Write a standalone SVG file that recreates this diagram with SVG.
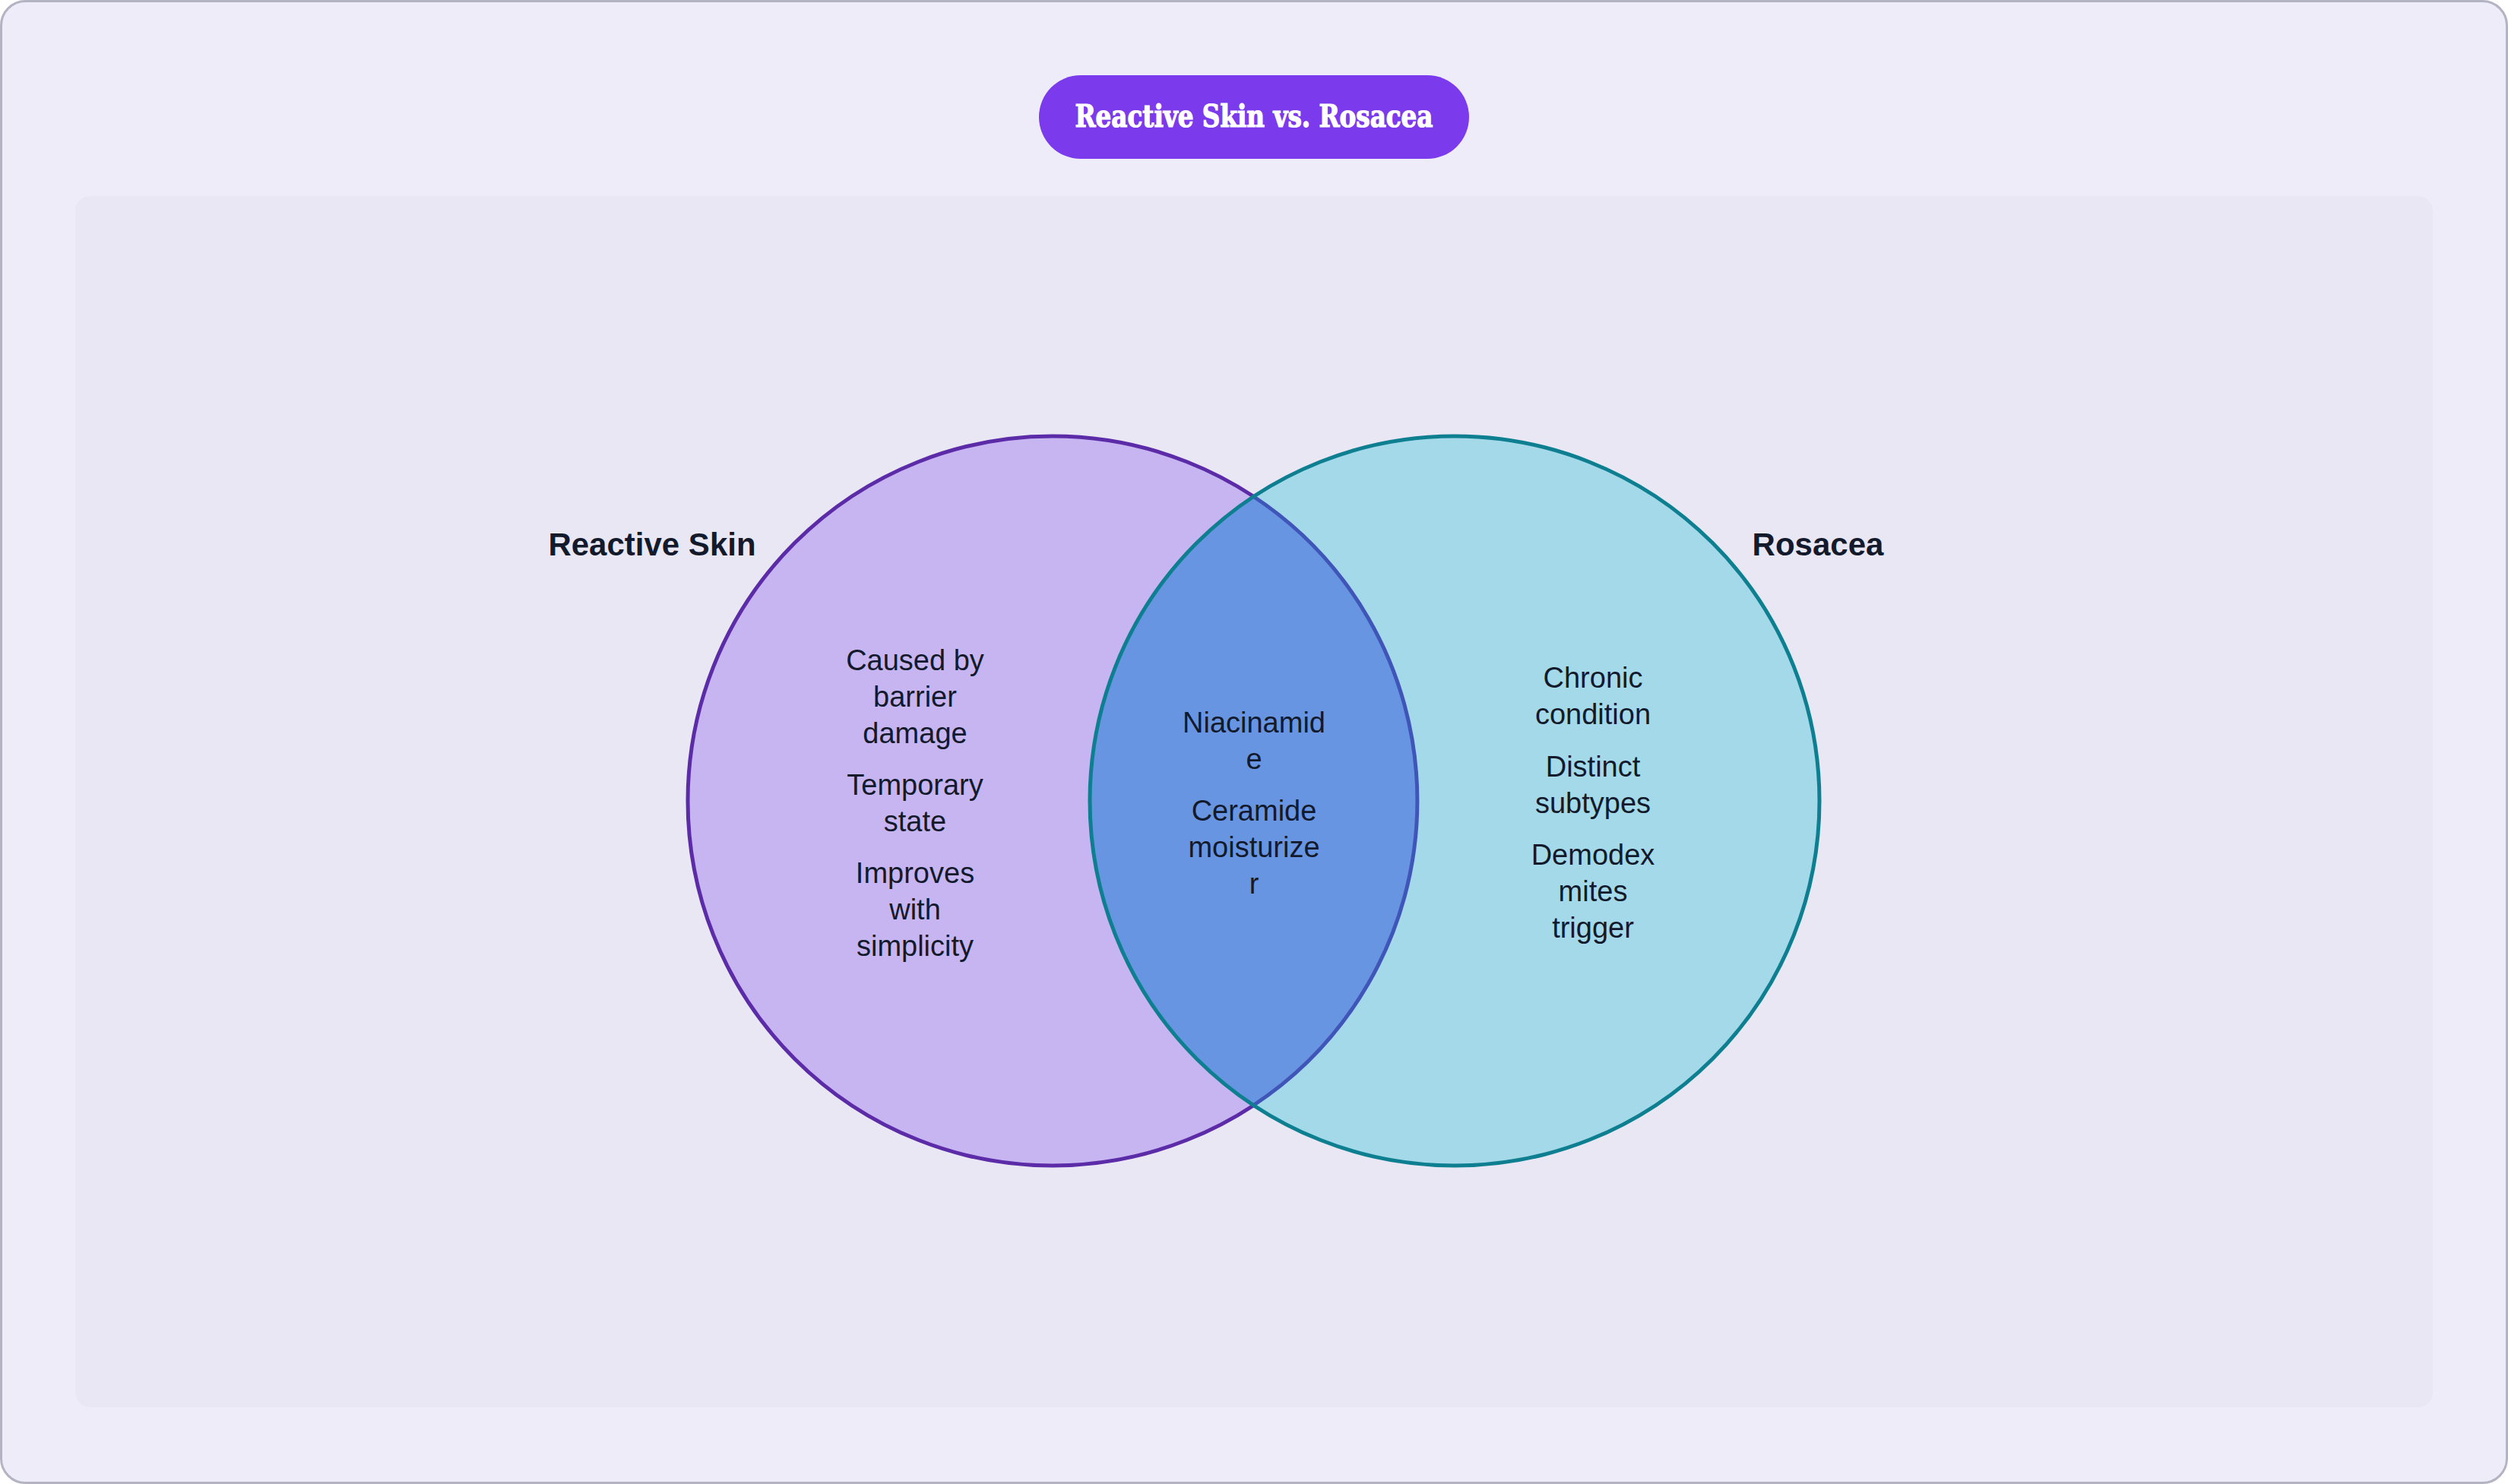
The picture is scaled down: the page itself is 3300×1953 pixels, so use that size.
<svg xmlns="http://www.w3.org/2000/svg" width="3300" height="1953" viewBox="0 0 3300 1953">
<style>
.lbl{font-family:"Liberation Sans",Arial,sans-serif;font-size:38px;fill:#131A2C;text-anchor:middle}
.set{font-family:"Liberation Sans",Arial,sans-serif;font-size:42px;font-weight:bold;fill:#131A2C;text-anchor:middle}
.ttl{font-family:"DejaVu Serif","Liberation Serif",serif;font-stretch:condensed;font-size:41px;font-weight:bold;fill:#FFFFFF;stroke:#FFFFFF;stroke-width:1.2px;text-anchor:middle}
</style>
<rect x="1.5" y="1.5" width="3297" height="1950" rx="32" fill="#EEECF8" stroke="#B4B3C3" stroke-width="3"/>
<rect x="99" y="258" width="3102" height="1594" rx="20" fill="#E9E7F4"/>
<g id="title">
<rect x="1367" y="99" width="566" height="110" rx="55" fill="#7C3AED"/>
<text class="ttl" x="1650" y="167" textLength="471" lengthAdjust="spacingAndGlyphs">Reactive Skin vs. Rosacea</text>
</g>
<g id="set-reactive">
<circle cx="1385" cy="1054" r="480" fill="#C7B5F2" stroke="#5B2BA8" stroke-width="5"/>
</g>
<g id="set-rosacea">
<circle cx="1914" cy="1054" r="480" fill="#A3D9E8"/>
</g>
<g id="overlap">
<path d="M1649.5 653.5 A480 480 0 0 1 1649.5 1454.5 A480 480 0 0 1 1649.5 653.5 Z" fill="#6895E1"/>
<path d="M1649.5 653.5 A480 480 0 0 1 1649.5 1454.5" fill="none" stroke="#3F55B8" stroke-width="5"/>
</g>
<circle cx="1914" cy="1054" r="480" fill="none" stroke="#0E7F90" stroke-width="5"/>
<g id="connectors"/>
<g id="reactive-labels">
<text class="set" x="858" y="731">Reactive Skin</text>
<text class="lbl" x="1204" y="882">Caused by</text>
<text class="lbl" x="1204" y="930">barrier</text>
<text class="lbl" x="1204" y="978">damage</text>
<text class="lbl" x="1204" y="1046">Temporary</text>
<text class="lbl" x="1204" y="1094">state</text>
<text class="lbl" x="1204" y="1162">Improves</text>
<text class="lbl" x="1204" y="1210">with</text>
<text class="lbl" x="1204" y="1258">simplicity</text>
</g>
<g id="rosacea-labels">
<text class="set" x="2392" y="731">Rosacea</text>
<text class="lbl" x="2096" y="905">Chronic</text>
<text class="lbl" x="2096" y="953">condition</text>
<text class="lbl" x="2096" y="1022">Distinct</text>
<text class="lbl" x="2096" y="1070">subtypes</text>
<text class="lbl" x="2096" y="1138">Demodex</text>
<text class="lbl" x="2096" y="1186">mites</text>
<text class="lbl" x="2096" y="1234">trigger</text>
</g>
<g id="overlap-labels">
<text class="lbl" x="1650" y="964">Niacinamid</text>
<text class="lbl" x="1650" y="1012">e</text>
<text class="lbl" x="1650" y="1080">Ceramide</text>
<text class="lbl" x="1650" y="1128">moisturize</text>
<text class="lbl" x="1650" y="1176">r</text>
</g>
</svg>
